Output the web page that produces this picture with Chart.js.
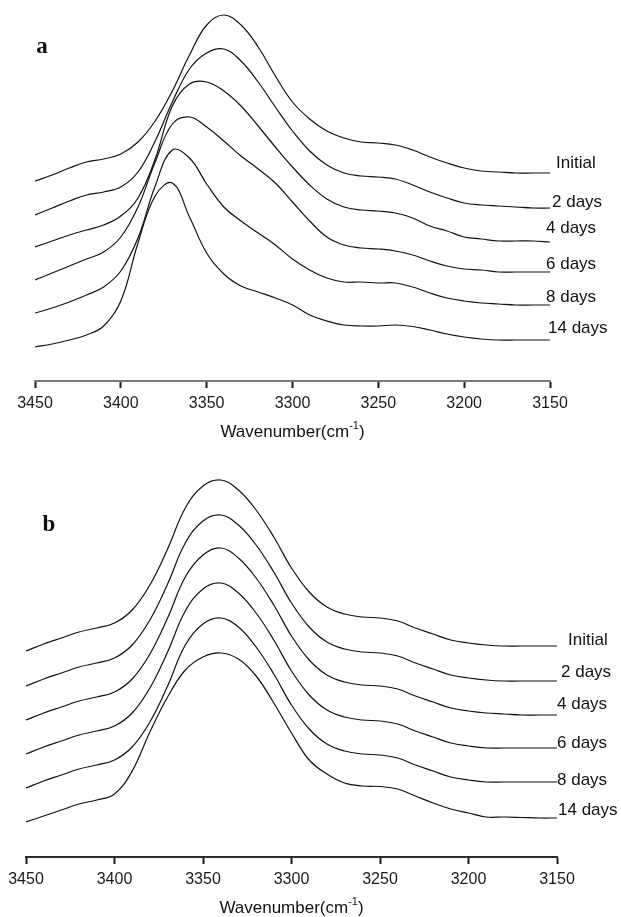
<!DOCTYPE html>
<html>
<head>
<meta charset="utf-8">
<script src="https://cdn.jsdelivr.net/npm/chart.js@4.4.1/dist/chart.umd.min.js"></script>
<style>
  html, body { margin: 0; padding: 0; background: #fff; }
  body { width: 621px; height: 917px; position: relative; overflow: hidden; }
  canvas { position: absolute; left: 0; }
  #chartA { top: 0; }
  #chartB { top: 460px; }
</style>
</head>
<body>
<canvas id="chartA" width="621" height="450"></canvas>
<canvas id="chartB" width="621" height="457"></canvas>
<script>
// wavenumber grid (cm-1), shared by every spectrum
const wavenumbers = [3450, 3440, 3430, 3420, 3410, 3400, 3390, 3380, 3370, 3360, 3350,
  3340, 3330, 3320, 3310, 3300, 3290, 3280, 3270, 3260, 3250,
  3240, 3230, 3220, 3210, 3200, 3190, 3180, 3170, 3160, 3150];
const xTicks = [3450, 3400, 3350, 3300, 3250, 3200, 3150];
const seriesNames = ["Initial", "2 days", "4 days", "6 days", "8 days", "14 days"];

// panel a, stacked absorbance (a.u.)
const aInitial = [2.00, 2.06, 2.13, 2.19, 2.22, 2.27, 2.39, 2.60, 2.90, 3.26, 3.56,
  3.66, 3.56, 3.34, 3.05, 2.79, 2.62, 2.50, 2.43, 2.39, 2.38,
  2.36, 2.31, 2.24, 2.18, 2.13, 2.10, 2.09, 2.08, 2.08, 2.08];
const aDay2 = [1.66, 1.73, 1.80, 1.86, 1.89, 1.94, 2.09, 2.40, 2.79, 3.12, 3.28,
  3.32, 3.20, 2.99, 2.74, 2.50, 2.30, 2.16, 2.08, 2.05, 2.04,
  2.02, 1.96, 1.89, 1.83, 1.78, 1.76, 1.75, 1.74, 1.73, 1.73];
const aDay4 = [1.34, 1.40, 1.46, 1.51, 1.56, 1.65, 1.83, 2.22, 2.75, 2.97, 2.99,
  2.90, 2.75, 2.55, 2.34, 2.14, 1.96, 1.82, 1.74, 1.71, 1.70,
  1.68, 1.63, 1.55, 1.50, 1.44, 1.42, 1.40, 1.40, 1.40, 1.39];
const aDay6 = [1.01, 1.08, 1.15, 1.22, 1.29, 1.44, 1.74, 2.19, 2.57, 2.64, 2.54,
  2.40, 2.25, 2.12, 1.98, 1.79, 1.60, 1.44, 1.36, 1.33, 1.32,
  1.30, 1.26, 1.20, 1.15, 1.12, 1.11, 1.09, 1.09, 1.09, 1.09];
const aDay8 = [0.68, 0.73, 0.79, 0.86, 0.94, 1.10, 1.43, 1.95, 2.31, 2.23, 1.97,
  1.74, 1.60, 1.48, 1.36, 1.22, 1.11, 1.03, 0.99, 0.99, 0.98,
  0.98, 0.94, 0.88, 0.83, 0.80, 0.78, 0.77, 0.76, 0.76, 0.76];
const aDay14 = [0.34, 0.37, 0.41, 0.46, 0.55, 0.80, 1.38, 1.85, 1.98, 1.64, 1.28,
  1.07, 0.95, 0.89, 0.83, 0.76, 0.66, 0.60, 0.56, 0.55, 0.55,
  0.56, 0.545, 0.51, 0.47, 0.44, 0.42, 0.41, 0.41, 0.41, 0.41];

// panel b, stacked absorbance (a.u.)
const bInitial = [2.06, 2.13, 2.19, 2.25, 2.29, 2.34, 2.47, 2.72, 3.08, 3.49, 3.71,
  3.77, 3.67, 3.47, 3.20, 2.89, 2.65, 2.50, 2.43, 2.40, 2.39,
  2.36, 2.29, 2.23, 2.17, 2.14, 2.12, 2.11, 2.11, 2.11, 2.11];
const bDay2 = [1.71, 1.78, 1.84, 1.90, 1.94, 1.99, 2.12, 2.37, 2.73, 3.14, 3.36,
  3.42, 3.32, 3.12, 2.85, 2.54, 2.30, 2.15, 2.08, 2.05, 2.04,
  2.01, 1.94, 1.88, 1.82, 1.79, 1.77, 1.76, 1.76, 1.76, 1.76];
const bDay4 = [1.37, 1.44, 1.50, 1.56, 1.60, 1.65, 1.78, 2.03, 2.39, 2.80, 3.02,
  3.09, 2.99, 2.79, 2.52, 2.21, 1.97, 1.82, 1.75, 1.72, 1.71,
  1.68, 1.61, 1.55, 1.49, 1.46, 1.44, 1.43, 1.42, 1.42, 1.42];
const bDay6 = [1.03, 1.10, 1.16, 1.22, 1.26, 1.31, 1.44, 1.69, 2.05, 2.46, 2.68,
  2.74, 2.64, 2.44, 2.17, 1.86, 1.62, 1.47, 1.40, 1.37, 1.36,
  1.33, 1.26, 1.20, 1.14, 1.11, 1.09, 1.09, 1.09, 1.09, 1.09];
const bDay8 = [0.69, 0.76, 0.82, 0.88, 0.92, 0.97, 1.10, 1.35, 1.71, 2.12, 2.33,
  2.39, 2.30, 2.10, 1.83, 1.52, 1.28, 1.13, 1.06, 1.03, 1.02,
  0.99, 0.92, 0.86, 0.80, 0.77, 0.75, 0.75, 0.75, 0.75, 0.75];
const bDay14 = [0.35, 0.41, 0.47, 0.53, 0.57, 0.63, 0.86, 1.25, 1.60, 1.87, 2.00,
  2.04, 1.98, 1.81, 1.54, 1.24, 0.97, 0.83, 0.74, 0.71, 0.705,
  0.68, 0.61, 0.54, 0.48, 0.44, 0.40, 0.40, 0.395, 0.39, 0.39];

const SANS = '"Liberation Sans", Arial, sans-serif';
const INK = "#111";

// name of each spectrum written just past its right end
const curveLabels = {
  id: "curveLabels",
  afterDatasetsDraw(chart, args, opts) {
    const ctx = chart.ctx;
    ctx.save();
    ctx.font = "17px " + SANS;
    ctx.fillStyle = INK;
    ctx.textAlign = "left";
    ctx.textBaseline = "middle";
    chart.data.datasets.forEach((ds, i) => {
      const pts = chart.getDatasetMeta(i).data;
      const end = pts[pts.length - 1];
      ctx.fillText(ds.label, end.x + opts.dx[i], end.y + opts.dy[i]);
    });
    ctx.restore();
  },
};

// x axis title with a raised "-1"
const axisTitle = {
  id: "axisTitle",
  afterDraw(chart, args, opts) {
    const ctx = chart.ctx;
    const area = chart.chartArea;
    const main = "Wavenumber(cm", sup = "-1", tail = ")";
    ctx.save();
    ctx.fillStyle = INK;
    ctx.textBaseline = "middle";
    ctx.textAlign = "left";
    ctx.font = "17px " + SANS;
    const wMain = ctx.measureText(main).width;
    const wTail = ctx.measureText(tail).width;
    ctx.font = "11px " + SANS;
    const wSup = ctx.measureText(sup).width;
    let x = (area.left + area.right) / 2 - (wMain + wSup + wTail) / 2;
    const y = area.bottom + opts.offset;
    ctx.font = "17px " + SANS;
    ctx.fillText(main, x, y);
    x += wMain;
    ctx.font = "11px " + SANS;
    ctx.fillText(sup, x, y - 6);
    x += wSup;
    ctx.font = "17px " + SANS;
    ctx.fillText(tail, x, y);
    ctx.restore();
  },
};

// bold panel letter
const panelLetter = {
  id: "panelLetter",
  afterDraw(chart, args, opts) {
    const ctx = chart.ctx;
    ctx.save();
    ctx.font = 'bold 23px "Liberation Serif", "Times New Roman", serif';
    ctx.fillStyle = INK;
    ctx.textAlign = "center";
    ctx.textBaseline = "middle";
    ctx.fillText(opts.text, opts.x, opts.y);
    ctx.restore();
  },
};

function spectraChart(canvasId, series, cfg) {
  return new Chart(document.getElementById(canvasId), {
    type: "line",
    data: {
      datasets: series.map((vals, i) => ({
        label: seriesNames[i],
        data: wavenumbers.map((wn, j) => ({ x: wn, y: vals[j] })),
        borderColor: INK,
        borderWidth: 1.2,
        pointRadius: 0,
        fill: false,
        tension: 0.4,
      })),
    },
    options: {
      responsive: false,
      animation: false,
      devicePixelRatio: 1,
      events: [],
      layout: { padding: { left: cfg.left, right: cfg.right, top: 0, bottom: 0 } },
      plugins: {
        legend: { display: false },
        tooltip: { enabled: false },
        curveLabels: { dx: cfg.labelDx, dy: cfg.labelDy },
        axisTitle: { offset: 51 },
        panelLetter: cfg.letter,
      },
      scales: {
        x: {
          type: "linear",
          reverse: true,
          min: 3150,
          max: 3450,
          afterBuildTicks: (scale) => {
            scale.ticks = xTicks.map((v) => ({ value: v }));
          },
          afterFit: (scale) => {
            scale.height = cfg.axisHeight;
          },
          grid: {
            drawOnChartArea: false,
            drawTicks: true,
            tickLength: 7,
            tickColor: "#1a1a1a",
            tickWidth: 2,
          },
          border: { display: true, color: cfg.axisColor, width: 2 },
          ticks: {
            color: "#1a1a1a",
            font: { family: SANS, size: 16 },
            padding: 6,
            maxRotation: 0,
            autoSkip: false,
            callback: (v) => String(v),
          },
        },
        y: { display: false, min: 0, max: cfg.yMax },
      },
    },
    plugins: [curveLabels, axisTitle, panelLetter],
  });
}

spectraChart("chartA", [aInitial, aDay2, aDay4, aDay6, aDay8, aDay14], {
  left: 35,
  right: 71,
  axisHeight: 69,
  yMax: 3.81,
  axisColor: "#7a7a7a",
  labelDx: [6, 2, -4, -4, -4, -2],
  labelDy: [-10, -6, -14, -8, -8, -12],
  letter: { text: "a", x: 42, y: 47 },
});

spectraChart("chartB", [bInitial, bDay2, bDay4, bDay6, bDay8, bDay14], {
  left: 26,
  right: 64,
  axisHeight: 60,
  yMax: 3.97,
  axisColor: "#2a2a2a",
  labelDx: [11, 4, 0, 0, 0, 1],
  labelDy: [-6, -9, -11, -5, -2, -8],
  letter: { text: "b", x: 49, y: 65 },
});
</script>
</body>
</html>
